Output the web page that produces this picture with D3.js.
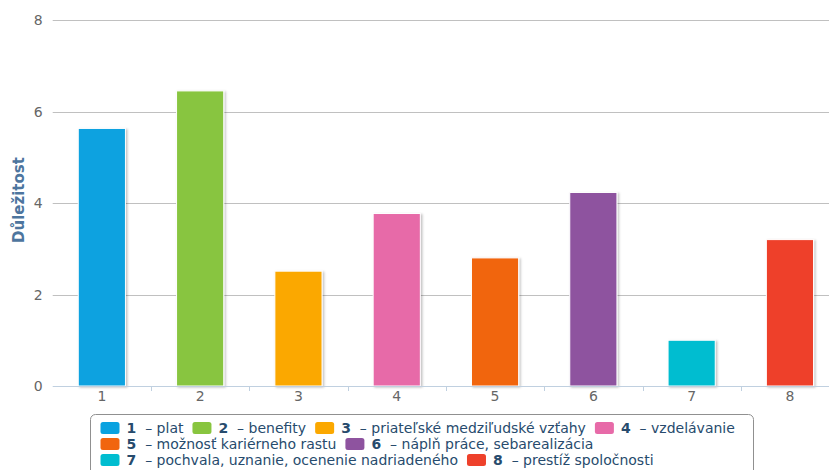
<!DOCTYPE html>
<html>
<head>
<meta charset="utf-8">
<script src="https://cdn.jsdelivr.net/npm/d3@7/dist/d3.min.js"></script>
<style>
  html, body { margin: 0; padding: 0; background: #fff; }
  svg { display: block; font-family: "DejaVu Sans", Verdana, sans-serif; }
</style>
</head>
<body>
<svg id="chart" width="829" height="470"></svg>
<script>
// Importance of workplace factors (Důležitost)
const categories = ["1", "2", "3", "4", "5", "6", "7", "8"];
const labels = [
  "plat",
  "benefity",
  "priateľské medziľudské vzťahy",
  "vzdelávanie",
  "možnosť kariérneho rastu",
  "náplň práce, sebarealizácia",
  "pochvala, uznanie, ocenenie nadriadeného",
  "prestíž spoločnosti"
];
const values = [5.63, 6.45, 2.51, 3.77, 2.80, 4.23, 1.00, 3.20];
const colors = ["#09a2e0", "#88c53f", "#fba800", "#e76aa8", "#f1650f", "#8e539f", "#00bdd0", "#ee412b"];
const yTicks = [0, 2, 4, 6, 8];
const yTitle = "Důležitost";

const svg = d3.select("#chart");
const W = 829, H = 470;
const plot = { left: 52.7, top: 20, bottom: 386, step: 98.3 };

const defs = svg.append("defs");
const f = defs.append("filter").attr("id", "barShadow")
  .attr("x", "-20%").attr("y", "-10%").attr("width", "140%").attr("height", "120%");
f.append("feDropShadow").attr("dx", 1.5).attr("dy", 1).attr("stdDeviation", 1)
  .attr("flood-color", "#000").attr("flood-opacity", 0.25);

const x = d3.scaleBand()
  .domain(categories)
  .range([plot.left, plot.left + plot.step * categories.length])
  .padding(0);

const y = d3.scaleLinear().domain([0, 8]).range([plot.bottom, plot.top]);

// horizontal grid lines
svg.append("g").selectAll("line")
  .data(yTicks.filter(t => t > 0))
  .join("line")
  .attr("x1", plot.left).attr("x2", W)
  .attr("y1", d => Math.round(y(d)) + 0.5).attr("y2", d => Math.round(y(d)) + 0.5)
  .attr("stroke", "#c0c0c0").attr("stroke-width", 1);

// y axis labels
const yAxis = d3.axisLeft(y).tickValues(yTicks).tickSize(0).tickPadding(0);
const gy = svg.append("g").attr("transform", `translate(${plot.left - 10},0)`).call(yAxis);
gy.select(".domain").remove();
gy.selectAll("text")
  .attr("fill", "#666").attr("font-size", 14)
  .attr("font-family", "DejaVu Sans, Verdana, sans-serif")
  .attr("dy", "0.35em");

// y axis title
svg.append("text")
  .attr("transform", `translate(24,${(plot.top + plot.bottom) / 2 - 3}) rotate(-90)`)
  .attr("text-anchor", "middle")
  .attr("fill", "#4d759e").attr("font-weight", "bold").attr("font-size", 15)
  .text(yTitle);

// bars
const barW = x.bandwidth() * 0.48;
svg.append("g").selectAll("rect")
  .data(values)
  .join("rect")
  .attr("x", (d, i) => x(categories[i]) + (x.bandwidth() - barW) / 2)
  .attr("y", d => y(d))
  .attr("width", barW)
  .attr("height", d => y(0) - y(d))
  .attr("fill", (d, i) => colors[i])
  .attr("stroke", "#fff").attr("stroke-width", 1)
  .attr("filter", "url(#barShadow)");

// x axis
const xAxis = d3.axisBottom(x).tickSize(0).tickPadding(5);
const gx = svg.append("g").attr("transform", `translate(0,${plot.bottom})`).call(xAxis);
gx.select(".domain").attr("d", `M${plot.left},0.5H${W}`).attr("stroke", "#c0d0e0");
gx.selectAll("text")
  .attr("fill", "#666").attr("font-size", 14)
  .attr("font-family", "DejaVu Sans, Verdana, sans-serif");
// category boundary ticks
gx.append("g").selectAll("line")
  .data(d3.range(1, categories.length + 1))
  .join("line")
  .attr("x1", i => Math.round(plot.left + i * plot.step) + 0.5)
  .attr("x2", i => Math.round(plot.left + i * plot.step) + 0.5)
  .attr("y1", 0.5).attr("y2", 5)
  .attr("stroke", "#c0d0e0");

// legend
const legend = { left: 90.5, top: 414.5, width: 663, height: 70, padX: 10, rowH: 16, gap: 9 };
svg.append("rect")
  .attr("x", legend.left).attr("y", legend.top)
  .attr("width", legend.width).attr("height", legend.height)
  .attr("rx", 5).attr("fill", "#fff").attr("stroke", "#909090").attr("stroke-width", 1);

const lg = svg.append("g");
let cx = legend.left + legend.padX, row = 0;
categories.forEach((c, i) => {
  const item = lg.append("g");
  item.append("rect").attr("width", 19).attr("height", 12).attr("rx", 2.5)
    .attr("fill", colors[i]);
  const t = item.append("text").attr("x", 26).attr("y", 11)
    .attr("fill", "#274b6d").attr("font-size", 14);
  t.append("tspan").attr("font-weight", "bold").text(c);
  t.append("tspan").text("\u00a0\u00a0\u2013 " + labels[i]);
  const w = 26 + t.node().getComputedTextLength();
  if (cx + w > legend.left + legend.width + 6 && cx > legend.left + legend.padX) {
    row += 1;
    cx = legend.left + legend.padX;
  }
  item.attr("transform", `translate(${cx},${422 + row * legend.rowH})`);
  cx += w + legend.gap;
});
</script>
</body>
</html>
